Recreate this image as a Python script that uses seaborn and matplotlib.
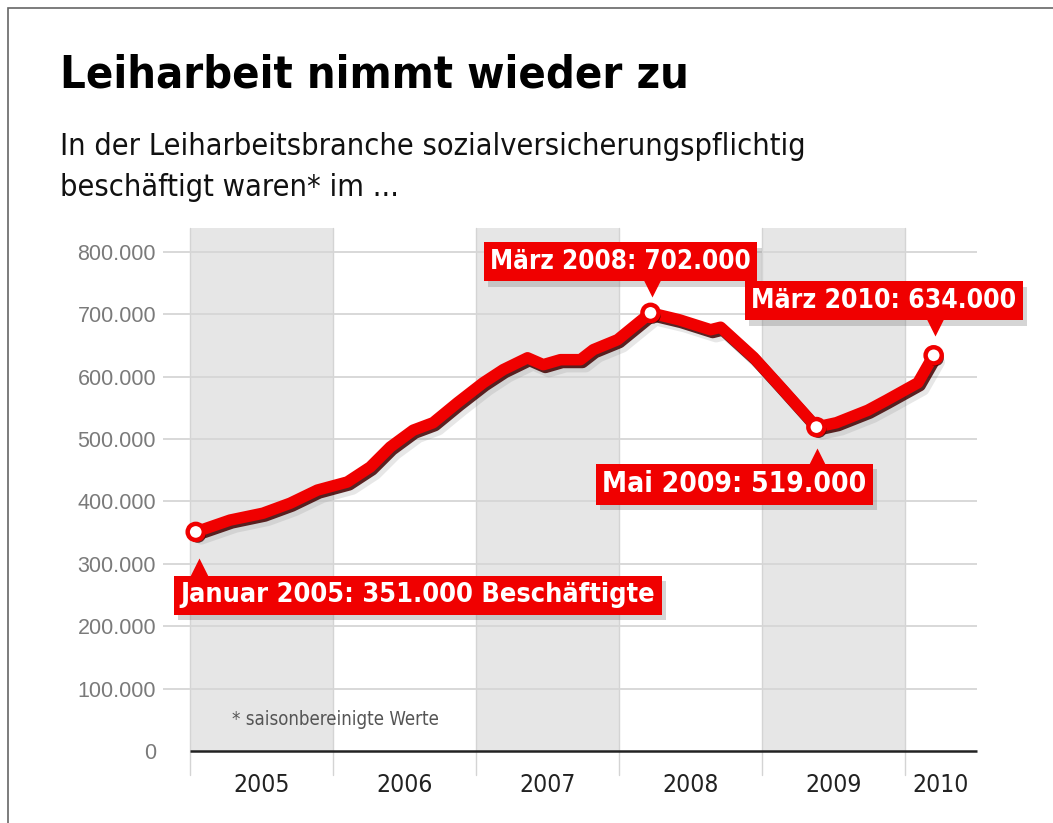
import numpy as np
import pandas as pd
import matplotlib
matplotlib.use('Agg')
import matplotlib.pyplot as plt
import matplotlib.patheffects as pe
import matplotlib.transforms as mtrans
from matplotlib.patches import Rectangle
import seaborn as sns

# ========== Daten ==========
# Zeitpunkt als Dezimaljahr, Beschäftigte in Tausend
zeit = [2005.04, 2005.28, 2005.51, 2005.70, 2005.89, 2006.10, 2006.26, 2006.40,
        2006.56, 2006.70, 2006.87, 2007.05, 2007.19, 2007.36, 2007.47, 2007.59,
        2007.73, 2007.82, 2007.99, 2008.22, 2008.42, 2008.64, 2008.71, 2008.94,
        2009.13, 2009.38, 2009.52, 2009.74, 2009.87, 2010.09, 2010.20]
tausend = [351, 370, 381, 397, 418, 431, 455, 487,
           514, 526, 558, 590, 611, 630, 619, 627,
           627, 643, 659, 702, 691, 675, 679, 631,
           583, 519, 526, 546, 562, 590, 634]

# markierte Punkte
key_zeit = [2005.04, 2008.22, 2009.38, 2010.20]
key_tausend = [351, 702, 519, 634]
key_text = ['Januar 2005: 351.000 Beschäftigte', 'März 2008: 702.000',
            'Mai 2009: 519.000', 'März 2010: 634.000']

jahre = [2005, 2006, 2007, 2008, 2009, 2010]
y_ticks = [0, 100000, 200000, 300000, 400000, 500000, 600000, 700000, 800000]

titel = 'Leiharbeit nimmt wieder zu'
untertitel = ['In der Leiharbeitsbranche sozialversicherungspflichtig',
              'beschäftigt waren* im ...']
fussnote = '* saisonbereinigte Werte'

df = pd.DataFrame({'zeit': zeit, 'wert': np.array(tausend) * 1000})
key_df = pd.DataFrame({'zeit': key_zeit, 'wert': np.array(key_tausend) * 1000})

# ========== Stil ==========
sns.set_style('white')
plt.rcParams['font.family'] = ['DejaVu Sans']
plt.rcParams['font.stretch'] = 'condensed'
ROT = '#f00000'

W, H = 1053, 823
fig = plt.figure(figsize=(W / 100, H / 100), dpi=100)
renderer = fig.canvas.get_renderer()


def fit_width(t, target_px):
    # Schriftgröße so anpassen, dass die Breite zur Vorlage passt
    w = t.get_window_extent(renderer).width
    t.set_fontsize(t.get_fontsize() * target_px / w)


ax = fig.add_axes([163 / W, 1 - 751 / H, (977 - 163) / W, (751 - 228) / H])
ax.set_xlim(2004.811, 2010.503)
ax.set_ylim(0, 838000)

# Jahresbänder
for i, j in enumerate(jahre):
    if i % 2 == 0:
        ax.axvspan(j, j + 1, color='#e6e6e6', zorder=0, lw=0)
    ax.axvline(j, ymin=-0.046, ymax=1, color='#d4d4d4', lw=1, zorder=0.5, clip_on=False)

for t in y_ticks[1:]:
    ax.axhline(t, color='#d6d6d6', lw=1.3, zorder=0.6)
ax.hlines(0, jahre[0], 2010.503, color='#222222', lw=1.8, zorder=1, clip_on=False)

# Linie mit Schatten
sns.lineplot(data=df, x='zeit', y='wert', ax=ax, color=ROT, lw=8.3,
             solid_capstyle='round', solid_joinstyle='round', zorder=3,
             path_effects=[pe.SimpleLineShadow(offset=(4, -5), shadow_color='#888888', alpha=0.2),
                           pe.SimpleLineShadow(offset=(1.5, -2), shadow_color='#400000', alpha=0.85),
                           pe.Normal()])

sns.scatterplot(data=key_df, x='zeit', y='wert', ax=ax, s=135, color='white',
                edgecolor=ROT, linewidth=3.2, zorder=5,
                path_effects=[pe.SimplePatchShadow(offset=(1.5, -2), shadow_rgbFace='#400000', alpha=0.8),
                              pe.Normal()])

# Beschriftungen (Versatz in Punkten relativ zum Datenpunkt)
box_off = [(-10.8, -45.7), (-21.6, 36.7), (-59, -41), (-36, 39.2)]
box_ha = ['left', 'center', 'center', 'center']
box_breite = [476, 261, 264, 266]
zeiger_off = [(2, -26), (1.4, 18.7), (0.7, -22.3), (0.7, 20.9)]
zeiger_m = ['^', 'v', '^', 'v']
for k in range(len(key_zeit)):
    a = ax.annotate(key_text[k], (key_zeit[k], key_tausend[k] * 1000),
                    xytext=box_off[k], textcoords='offset points',
                    ha=box_ha[k], va='center', color='white', fontsize=20,
                    fontweight='bold', zorder=6,
                    bbox=dict(boxstyle='square,pad=0.28', fc=ROT, ec='none'))
    fit_width(a, box_breite[k])
    fs_px = a.get_fontsize() / 72 * 100
    a.get_bbox_patch().set_boxstyle('square', pad=6.5 / fs_px)
    a.get_bbox_patch().set_path_effects([
        pe.SimplePatchShadow(offset=(3, -4), shadow_rgbFace='#777777', alpha=0.3),
        pe.Normal()])
    ax.plot([key_zeit[k]], [key_tausend[k] * 1000], marker=zeiger_m[k], ms=14,
            color=ROT, mec='none', zorder=6, linestyle='none',
            transform=ax.transData + mtrans.ScaledTranslation(
                zeiger_off[k][0] / 72, zeiger_off[k][1] / 72, fig.dpi_scale_trans))

# Achsen
ax.set_yticks(y_ticks)
ax.set_yticklabels([f'{v:,}'.replace(',', '.') for v in y_ticks],
                   fontfamily='Liberation Sans', fontstretch='normal')
ax.tick_params(axis='y', length=0, pad=5, labelsize=15.5, labelcolor='#7a7a7a')

x_mitte = [(max(j, 2004.811) + min(j + 1, 2010.503)) / 2 for j in jahre]
ax.set_xticks(x_mitte)
ax.set_xticklabels([str(j) for j in jahre])
ax.tick_params(axis='x', length=0, pad=16, labelsize=20, labelcolor='#222222')
ax.set_xlabel('')
ax.set_ylabel('')
for s in ax.spines.values():
    s.set_visible(False)

fn = ax.text(2005.29, 50000, fussnote, fontsize=15, color='#555555', va='center', zorder=2)
fit_width(fn, 208)

# Titel
tt = fig.text(60 / W, 1 - 88 / H, titel, fontsize=36, fontweight='bold', color='black',
              va='baseline')
fit_width(tt, 628)
st1 = fig.text(60 / W, 1 - 155 / H, untertitel[0], fontsize=23, color='#111111', va='baseline')
fit_width(st1, 748)
st2 = fig.text(60 / W, 1 - 196 / H, untertitel[1], fontsize=st1.get_fontsize(), color='#111111',
               va='baseline')

# x-Beschriftung an die Breite anpassen
fig.canvas.draw()
xl = ax.get_xticklabels()[0]
w0 = xl.get_window_extent(renderer).width
ax.tick_params(axis='x', labelsize=20 * 56 / w0)

# Rahmen
fig.patches.append(Rectangle((8 / W, -0.1), 1.2, 1.1 - 8 / H, transform=fig.transFigure,
                             fill=False, ec='#666666', lw=1.2))

fig.savefig('out.png', dpi=100)
